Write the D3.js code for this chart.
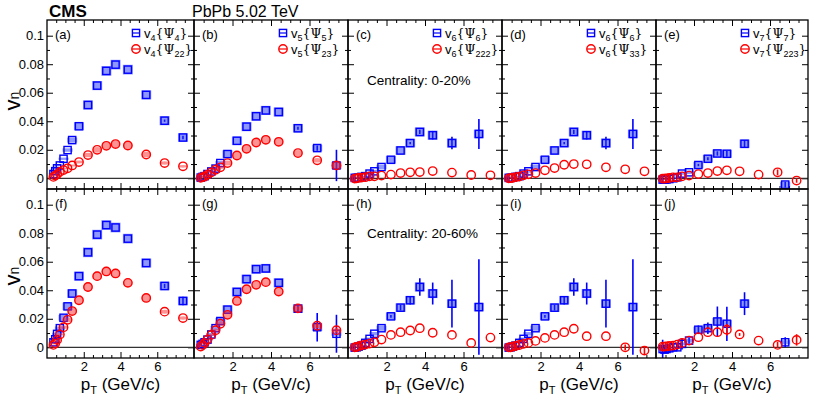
<!DOCTYPE html>
<html>
<head>
<meta charset="utf-8">
<script src="https://cdn.jsdelivr.net/npm/d3@7"></script>
<style>
  body { margin: 0; background: #fff; }
  svg { font-family: "Liberation Sans", Arial, Helvetica, sans-serif; }
</style>
</head>
<body>
<svg id="chart" width="814" height="399"></svg>
<script>
// pT bin centres (GeV/c)
const ptBins = [0.35, 0.45, 0.55, 0.7, 0.9, 1.12, 1.37, 1.74, 2.23, 2.73, 3.23, 3.73, 4.4, 5.4, 6.4, 7.4];
const ptBinsV6 = [0.35, 0.45, 0.55, 0.7, 0.9, 1.12, 1.37, 1.74, 2.23, 2.73, 3.23, 3.73, 4.4, 5.4, 6.8];
const ptBinsV7 = [0.35, 0.45, 0.55, 0.7, 0.9, 1.12, 1.37, 1.74, 2.23, 2.73, 3.23, 3.73, 4.66, 6.8];

// centrality 0-20%
const v4Psi4_0020 = [0.003, 0.005, 0.007, 0.009, 0.0137, 0.0198, 0.0268, 0.0365, 0.0514, 0.065, 0.0753, 0.0797, 0.0762, 0.0585, 0.0404, 0.0286];
const err_v4Psi4_0020 = [0, 0, 0, 0, 0, 0, 0, 0, 0, 0, 0, 0, 0, 0, 0.0008, 0.0012];
const sys_v4Psi4_0020 = [0.0003, 0.0003, 0.0004, 0.0005, 0.0008, 0.0012, 0.0018, 0.0028, 0.0032, 0.0032, 0.0034, 0.0034, 0.0034, 0.0032, 0.0032, 0.003];
const v4Psi22_0020 = [0.001, 0.0019, 0.0028, 0.0045, 0.0058, 0.007, 0.009, 0.0114, 0.0163, 0.02, 0.0228, 0.024, 0.023, 0.0167, 0.0107, 0.0084];
const sys_v4Psi22_0020 = [0.0002, 0.0002, 0.0003, 0.0003, 0.0004, 0.0005, 0.0007, 0.001, 0.0016, 0.002, 0.0024, 0.0025, 0.0024, 0.002, 0.0012, 0.001];

const v5Psi5_0020 = [0.0005, 0.001, 0.0015, 0.003, 0.0048, 0.0068, 0.0107, 0.017, 0.0263, 0.0362, 0.0435, 0.0476, 0.0465, 0.0351, 0.0212, 0.009];
const err_v5Psi5_0020 = [0, 0, 0, 0, 0, 0, 0, 0, 0, 0, 0, 0, 0, 0.001, 0.0018, 0.011];
const sys_v5Psi5_0020 = [0.0002, 0.0003, 0.0004, 0.0005, 0.0007, 0.001, 0.0015, 0.0026, 0.003, 0.0032, 0.0032, 0.0032, 0.0032, 0.003, 0.0022, 0.0025];
const v5Psi23_0020 = [0.0003, 0.0008, 0.0013, 0.0025, 0.0042, 0.006, 0.0077, 0.0107, 0.016, 0.0207, 0.0251, 0.027, 0.0256, 0.0177, 0.0126, 0.009];
const sys_v5Psi23_0020 = [0.0002, 0.0002, 0.0003, 0.0004, 0.0006, 0.0008, 0.0012, 0.0018, 0.0025, 0.0028, 0.003, 0.003, 0.003, 0.0022, 0.0016, 0.0028];

const v6Psi6_0020 = [0.0003, 0.0003, 0.0004, 0.001, 0.0015, 0.0033, 0.0049, 0.0079, 0.013, 0.0195, 0.0247, 0.0325, 0.0302, 0.0247, 0.0311];
const err_v6Psi6_0020 = [0, 0, 0, 0, 0, 0, 0, 0, 0, 0, 0.0008, 0.0015, 0.003, 0.0044, 0.0105];
const sys_v6Psi6_0020 = [0.0002, 0.0002, 0.0003, 0.0003, 0.0005, 0.0007, 0.001, 0.0016, 0.0026, 0.003, 0.003, 0.0032, 0.0032, 0.0032, 0.003];
const v6Psi222_0020 = [-0.0002, 0, 0.0003, 0.0005, 0.0008, 0.0014, 0.0014, 0.0019, 0.0026, 0.0037, 0.0042, 0.0044, 0.0051, 0.004, 0.0023, 0.0021];
const v6Psi33_0020 = [0, 0.0001, 0.0003, 0.0008, 0.0012, 0.0021, 0.0028, 0.0037, 0.0056, 0.0072, 0.0095, 0.01, 0.0098, 0.0077, 0.0063, 0.0049];

const v7Psi7_0020 = [-0.0009, -0.0009, -0.0008, -0.0005, 0, 0.0007, 0.0033, 0.0042, 0.0093, 0.0137, 0.0174, 0.0172, 0.0242, -0.0044];
const err_v7Psi7_0020 = [0, 0, 0, 0, 0, 0, 0, 0, 0.0008, 0.001, 0.0015, 0.002, 0.0025, 0.002];
const sys_v7Psi7_0020 = [0.0002, 0.0002, 0.0002, 0.0003, 0.0004, 0.0006, 0.0009, 0.0012, 0.0022, 0.0026, 0.0028, 0.0028, 0.003, 0.002];
const v7Psi223_0020 = [-0.0002, -0.0002, 0, 0.0002, 0.0007, 0.0007, 0.0014, 0.0019, 0.003, 0.0037, 0.0051, 0.0056, 0.0049, 0.0026, 0.0042, -0.0016];
const err_v7Psi223_0020 = [0, 0, 0, 0, 0, 0, 0, 0, 0, 0, 0, 0, 0, 0, 0.002, 0.0015];

// centrality 20-60%
const v4Psi4_2060 = [0.0035, 0.0056, 0.0094, 0.0134, 0.0207, 0.0287, 0.0377, 0.0499, 0.0666, 0.079, 0.0857, 0.084, 0.0762, 0.0591, 0.043, 0.0325];
const err_v4Psi4_2060 = [0, 0, 0, 0, 0, 0, 0, 0, 0, 0, 0, 0, 0, 0, 0.0015, 0.003];
const sys_v4Psi4_2060 = [0.0003, 0.0005, 0.0008, 0.0012, 0.002, 0.0026, 0.003, 0.0032, 0.0034, 0.0034, 0.0034, 0.0034, 0.0034, 0.0032, 0.003, 0.003];
const v4Psi22_2060 = [0.0017, 0.0028, 0.0052, 0.009, 0.0141, 0.0193, 0.0254, 0.033, 0.0423, 0.0499, 0.0532, 0.0518, 0.0452, 0.0346, 0.025, 0.0205];
const sys_v4Psi22_2060 = [0.0002, 0.0003, 0.0005, 0.0008, 0.0012, 0.0018, 0.0026, 0.003, 0.0032, 0.0032, 0.0032, 0.0032, 0.003, 0.0028, 0.0014, 0.0012];

const v5Psi5_2060 = [0.0017, 0.0024, 0.0035, 0.0054, 0.009, 0.0134, 0.0184, 0.0264, 0.0388, 0.0478, 0.0548, 0.0553, 0.0452, 0.0271, 0.0141, 0.0095];
const err_v5Psi5_2060 = [0, 0, 0, 0, 0, 0, 0, 0, 0, 0, 0, 0, 0, 0.0025, 0.01, 0.0133];
const sys_v5Psi5_2060 = [0.0002, 0.0003, 0.0004, 0.0006, 0.001, 0.0015, 0.0022, 0.003, 0.0032, 0.0032, 0.0032, 0.0032, 0.0032, 0.003, 0.0026, 0.0014];
const v5Psi23_2060 = [0.0005, 0.0017, 0.0031, 0.0054, 0.0087, 0.012, 0.0165, 0.0228, 0.0325, 0.0407, 0.0438, 0.0457, 0.0391, 0.0273, 0.0151, 0.012];
const err_v5Psi23_2060 = [0, 0, 0, 0, 0, 0, 0, 0, 0, 0, 0, 0, 0, 0.001, 0.002, 0.002];
const sys_v5Psi23_2060 = [0.0002, 0.0002, 0.0003, 0.0005, 0.0008, 0.0012, 0.0018, 0.0026, 0.003, 0.003, 0.003, 0.003, 0.003, 0.0028, 0.0016, 0.0014];

const v6Psi6_2060 = [-0.0002, 0, 0.0005, 0.0012, 0.0031, 0.0059, 0.0095, 0.0134, 0.0217, 0.0278, 0.033, 0.0423, 0.0377, 0.0306, 0.0282];
const err_v6Psi6_2060 = [0, 0, 0, 0, 0, 0, 0, 0, 0.001, 0.002, 0.003, 0.0062, 0.0077, 0.0167, 0.0335];
const sys_v6Psi6_2060 = [0.0002, 0.0002, 0.0003, 0.0004, 0.0006, 0.0009, 0.0012, 0.0018, 0.0026, 0.003, 0.003, 0.0032, 0.0032, 0.003, 0.003];
const v6Psi222_2060 = [0, 0.0002, 0.0007, 0.0014, 0.0019, 0.0026, 0.0035, 0.0054, 0.0087, 0.0106, 0.0118, 0.0134, 0.0102, 0.0087, 0.0031, 0.0068];
const v6Psi33_2060 = [0, 0, 0.0005, 0.0009, 0.0016, 0.0024, 0.0031, 0.0045, 0.0066, 0.0087, 0.0106, 0.013, 0.0078, 0.0078, 0, -0.0023];
const err_v6Psi33_2060 = [0, 0, 0, 0, 0, 0, 0, 0, 0, 0, 0, 0, 0, 0, 0.002, 0.003];

const v7Psi7_2060 = [-0.0012, -0.0016, -0.0012, -0.0007, 0, 0, 0.0024, 0.0047, 0.0123, 0.0134, 0.0181, 0.0165, 0.0306, 0.0035];
const err_v7Psi7_2060 = [0.0065, 0.002, 0.001, 0.001, 0.002, 0.002, 0.004, 0.002, 0.003, 0.004, 0.0105, 0.012, 0.008, 0.0035];
const sys_v7Psi7_2060 = [0.0002, 0.0002, 0.0002, 0.0003, 0.0004, 0.0006, 0.001, 0.0014, 0.0022, 0.0026, 0.0026, 0.0026, 0.003, 0.0015];
const v7Psi223_2060 = [0.0005, 0.0005, 0.0007, 0.0009, 0.0012, 0.0019, 0.0031, 0.0047, 0.0071, 0.0106, 0.0106, 0.0123, 0.009, 0.0047, 0.0017, 0.0052];
const err_v7Psi223_2060 = [0, 0, 0, 0, 0, 0, 0, 0, 0, 0, 0, 0.004, 0.001, 0, 0.002, 0.004];

// axis ticks
const yMajor = [0, 0.02, 0.04, 0.06, 0.08, 0.1];
const yMinor = [0.01, 0.03, 0.05, 0.07, 0.09];
const xMajor = [2, 4, 6];
const xMinor = [0.5, 1, 1.5, 2.5, 3, 3.5, 4.5, 5, 5.5, 6.5, 7, 7.5];

const centralityLabels = ["Centrality: 0-20%", "Centrality: 20-60%"];

const series = (pt, v, err, sys) => ({ pt, v, err, sys });

const panels = [
  { col: 0, row: 0, tag: "(a)", n: "4", psiB: "4", psiR: "22",
    blue: series(ptBins, v4Psi4_0020, err_v4Psi4_0020, sys_v4Psi4_0020),
    red: series(ptBins, v4Psi22_0020, null, sys_v4Psi22_0020) },
  { col: 1, row: 0, tag: "(b)", n: "5", psiB: "5", psiR: "23",
    blue: series(ptBins, v5Psi5_0020, err_v5Psi5_0020, sys_v5Psi5_0020),
    red: series(ptBins, v5Psi23_0020, null, sys_v5Psi23_0020) },
  { col: 2, row: 0, tag: "(c)", n: "6", psiB: "6", psiR: "222", centrality: 0,
    blue: series(ptBinsV6, v6Psi6_0020, err_v6Psi6_0020, sys_v6Psi6_0020),
    red: series(ptBins, v6Psi222_0020, null, null) },
  { col: 3, row: 0, tag: "(d)", n: "6", psiB: "6", psiR: "33",
    blue: series(ptBinsV6, v6Psi6_0020, err_v6Psi6_0020, sys_v6Psi6_0020),
    red: series(ptBins, v6Psi33_0020, null, null) },
  { col: 4, row: 0, tag: "(e)", n: "7", psiB: "7", psiR: "223",
    blue: series(ptBinsV7, v7Psi7_0020, err_v7Psi7_0020, sys_v7Psi7_0020),
    red: series(ptBins, v7Psi223_0020, err_v7Psi223_0020, null) },
  { col: 0, row: 1, tag: "(f)",
    blue: series(ptBins, v4Psi4_2060, err_v4Psi4_2060, sys_v4Psi4_2060),
    red: series(ptBins, v4Psi22_2060, null, sys_v4Psi22_2060) },
  { col: 1, row: 1, tag: "(g)",
    blue: series(ptBins, v5Psi5_2060, err_v5Psi5_2060, sys_v5Psi5_2060),
    red: series(ptBins, v5Psi23_2060, err_v5Psi23_2060, sys_v5Psi23_2060) },
  { col: 2, row: 1, tag: "(h)", centrality: 1,
    blue: series(ptBinsV6, v6Psi6_2060, err_v6Psi6_2060, sys_v6Psi6_2060),
    red: series(ptBins, v6Psi222_2060, null, null) },
  { col: 3, row: 1, tag: "(i)",
    blue: series(ptBinsV6, v6Psi6_2060, err_v6Psi6_2060, sys_v6Psi6_2060),
    red: series(ptBins, v6Psi33_2060, err_v6Psi33_2060, null) },
  { col: 4, row: 1, tag: "(j)",
    blue: series(ptBinsV7, v7Psi7_2060, err_v7Psi7_2060, sys_v7Psi7_2060),
    red: series(ptBins, v7Psi223_2060, err_v7Psi223_2060, null) }
];

// layout
const colLeft = [47, 194, 348, 502, 656];
const colRight = [194, 348, 502, 656, 808];
const rowTop = [20, 189];
const rowBottom = [189, 358];
const xDomain = [0, 8];
const yDomain = [-0.0075, 0.111];

const BLUE = "#0000ff", RED = "#ff0000";
const BLUE_FILL = "rgba(30,50,255,0.5)", RED_FILL = "rgba(255,40,40,0.5)";
const SERIF = "'DejaVu Serif', 'Liberation Serif', serif";

const svg = d3.select("#chart");
svg.append("rect").attr("width", 814).attr("height", 399).attr("fill", "#fff");

const fmtY = (d) => (d === 0 ? "0" : String(+d.toFixed(2)));

function styleAxis(g) {
  g.select(".domain").remove();
  g.selectAll(".tick line").attr("stroke", "#000").attr("stroke-width", 1);
  g.selectAll("text")
    .attr("fill", "#000")
    .attr("font-size", 13)
    .attr("font-family", "'Liberation Sans', Arial, sans-serif");
}

function drawSeries(g, s, x, y, kind) {
  const pts = s.v.map((v, i) => ({
    pt: s.pt[i], v, e: s.err ? s.err[i] : 0, sys: s.sys ? s.sys[i] : 0
  }));
  const col = kind === "sq" ? BLUE : RED;

  g.selectAll(null)
    .data(pts.filter((d) => d.e > 0))
    .enter()
    .append("line")
    .attr("x1", (d) => x(d.pt))
    .attr("x2", (d) => x(d.pt))
    .attr("y1", (d) => y(d.v - d.e))
    .attr("y2", (d) => y(d.v + d.e))
    .attr("stroke", col)
    .attr("stroke-width", 1.6);

  // systematic boxes
  g.selectAll(null)
    .data(pts.filter((d) => d.sys > 0))
    .enter()
    .append("rect")
    .attr("x", (d) => x(d.pt) - (kind === "sq" ? 5 : 4.6))
    .attr("width", kind === "sq" ? 10 : 9.2)
    .attr("y", (d) => y(d.v + d.sys))
    .attr("height", (d) => y(d.v - d.sys) - y(d.v + d.sys))
    .attr("rx", kind === "sq" ? 0 : 4.6)
    .attr("fill", kind === "sq" ? BLUE_FILL : RED_FILL);

  if (kind === "sq") {
    g.selectAll(null)
      .data(pts)
      .enter()
      .append("rect")
      .attr("x", (d) => x(d.pt) - 3.6)
      .attr("y", (d) => y(d.v) - 3.6)
      .attr("width", 7.2)
      .attr("height", 7.2)
      .attr("fill", "none")
      .attr("stroke", col)
      .attr("stroke-width", 1.4);
  } else {
    g.selectAll(null)
      .data(pts)
      .enter()
      .append("circle")
      .attr("cx", (d) => x(d.pt))
      .attr("cy", (d) => y(d.v))
      .attr("r", 4.2)
      .attr("fill", "none")
      .attr("stroke", col)
      .attr("stroke-width", 1.4);
  }
}

function legendEntry(g, xm, ym, kind, n, psi) {
  const col = kind === "sq" ? BLUE : RED;
  if (kind === "sq") {
    g.append("rect").attr("x", xm - 3.6).attr("y", ym - 3.6).attr("width", 7.2).attr("height", 7.2)
      .attr("fill", "none").attr("stroke", col).attr("stroke-width", 1.4);
  } else {
    g.append("circle").attr("cx", xm).attr("cy", ym).attr("r", 4.2)
      .attr("fill", "none").attr("stroke", col).attr("stroke-width", 1.4);
  }
  g.append("line").attr("x1", xm - 4).attr("x2", xm + 4).attr("y1", ym).attr("y2", ym)
    .attr("stroke", col).attr("stroke-width", 1.2);

  const t = g.append("text").attr("x", xm + 8).attr("y", ym + 4.5).attr("font-size", 13).attr("fill", "#000");
  t.append("tspan").text("v");
  t.append("tspan").attr("font-size", 9).attr("dy", 3).text(n);
  t.append("tspan").attr("dy", -3).attr("font-family", SERIF).attr("font-size", 12.5).text("{Ψ");
  t.append("tspan").attr("font-size", 9).attr("dy", 3).text(psi);
  t.append("tspan").attr("dy", -3).attr("font-family", SERIF).attr("font-size", 12.5).text("}");
}

panels.forEach((p, k) => {
  const left = colLeft[p.col], right = colRight[p.col];
  const top = rowTop[p.row], bottom = rowBottom[p.row];
  const x = d3.scaleLinear().domain(xDomain).range([left, right]);
  const y = d3.scaleLinear().domain(yDomain).range([bottom, top]);

  const g = svg.append("g");
  const clipId = "clip" + k;
  g.append("clipPath").attr("id", clipId)
    .append("rect").attr("x", left).attr("y", top).attr("width", right - left).attr("height", bottom - top);

  // axes (ticks inside the frame on all four sides)
  styleAxis(g.append("g").attr("transform", `translate(${left},0)`)
    .call(d3.axisLeft(y).tickValues(yMajor).tickSize(-6).tickPadding(3)
      .tickFormat(p.col === 0 ? fmtY : () => "")));
  styleAxis(g.append("g").attr("transform", `translate(${left},0)`)
    .call(d3.axisLeft(y).tickValues(yMinor).tickSize(-3).tickFormat(() => "")));
  styleAxis(g.append("g").attr("transform", `translate(${right},0)`)
    .call(d3.axisRight(y).tickValues(yMajor).tickSize(-6).tickFormat(() => "")));
  styleAxis(g.append("g").attr("transform", `translate(${right},0)`)
    .call(d3.axisRight(y).tickValues(yMinor).tickSize(-3).tickFormat(() => "")));

  styleAxis(g.append("g").attr("transform", `translate(0,${bottom})`)
    .call(d3.axisBottom(x).tickValues(xMajor).tickSize(-6).tickPadding(4)
      .tickFormat(p.row === 1 ? d3.format("d") : () => "")));
  styleAxis(g.append("g").attr("transform", `translate(0,${bottom})`)
    .call(d3.axisBottom(x).tickValues(xMinor).tickSize(-3).tickFormat(() => "")));
  styleAxis(g.append("g").attr("transform", `translate(0,${top})`)
    .call(d3.axisTop(x).tickValues(xMajor).tickSize(-6).tickFormat(() => "")));
  styleAxis(g.append("g").attr("transform", `translate(0,${top})`)
    .call(d3.axisTop(x).tickValues(xMinor).tickSize(-3).tickFormat(() => "")));

  const plot = g.append("g").attr("clip-path", `url(#${clipId})`);
  plot.append("line")
    .attr("x1", left).attr("x2", right)
    .attr("y1", y(0)).attr("y2", y(0))
    .attr("stroke", "#333").attr("stroke-width", 1.2);

  drawSeries(plot.append("g"), p.blue, x, y, "sq");
  drawSeries(plot.append("g"), p.red, x, y, "ci");

  g.append("rect")
    .attr("x", left).attr("y", top)
    .attr("width", right - left).attr("height", bottom - top)
    .attr("fill", "none").attr("stroke", "#000").attr("stroke-width", 1.3);

  g.append("text").attr("x", left + 8).attr("y", top + 19)
    .attr("font-size", 13).text(p.tag);

  if (p.row === 0) {
    legendEntry(g, left + 89, top + 13, "sq", p.n, p.psiB);
    legendEntry(g, left + 89, top + 29, "ci", p.n, p.psiR);
  }

  if (p.centrality !== undefined) {
    g.append("text").attr("x", left + 19).attr("y", top + (p.row === 0 ? 65 : 49))
      .attr("font-size", 13.5).text(centralityLabels[p.centrality]);
  }

  if (p.row === 1) {
    const xl = g.append("text").attr("x", (left + right) / 2).attr("y", 390)
      .attr("text-anchor", "middle").attr("font-size", 17);
    xl.append("tspan").text("p");
    xl.append("tspan").attr("font-size", 11).attr("dy", 4).text("T");
    xl.append("tspan").attr("dy", -4).text(" (GeV/c)");
  }

  if (p.col === 0) {
    const yl = g.append("text")
      .attr("transform", `translate(20,${p.row === 0 ? 101 : 276}) rotate(-90)`)
      .attr("text-anchor", "middle").attr("font-size", 22);
    yl.append("tspan").text("v");
    yl.append("tspan").attr("font-size", 14).attr("dy", -1.5).text("n");
  }
});

svg.append("text").attr("x", 49).attr("y", 17)
  .attr("font-size", 17).attr("font-weight", "bold").text("CMS");
svg.append("text").attr("x", 192).attr("y", 17)
  .attr("font-size", 16).text("PbPb 5.02 TeV");
</script>
</body>
</html>
